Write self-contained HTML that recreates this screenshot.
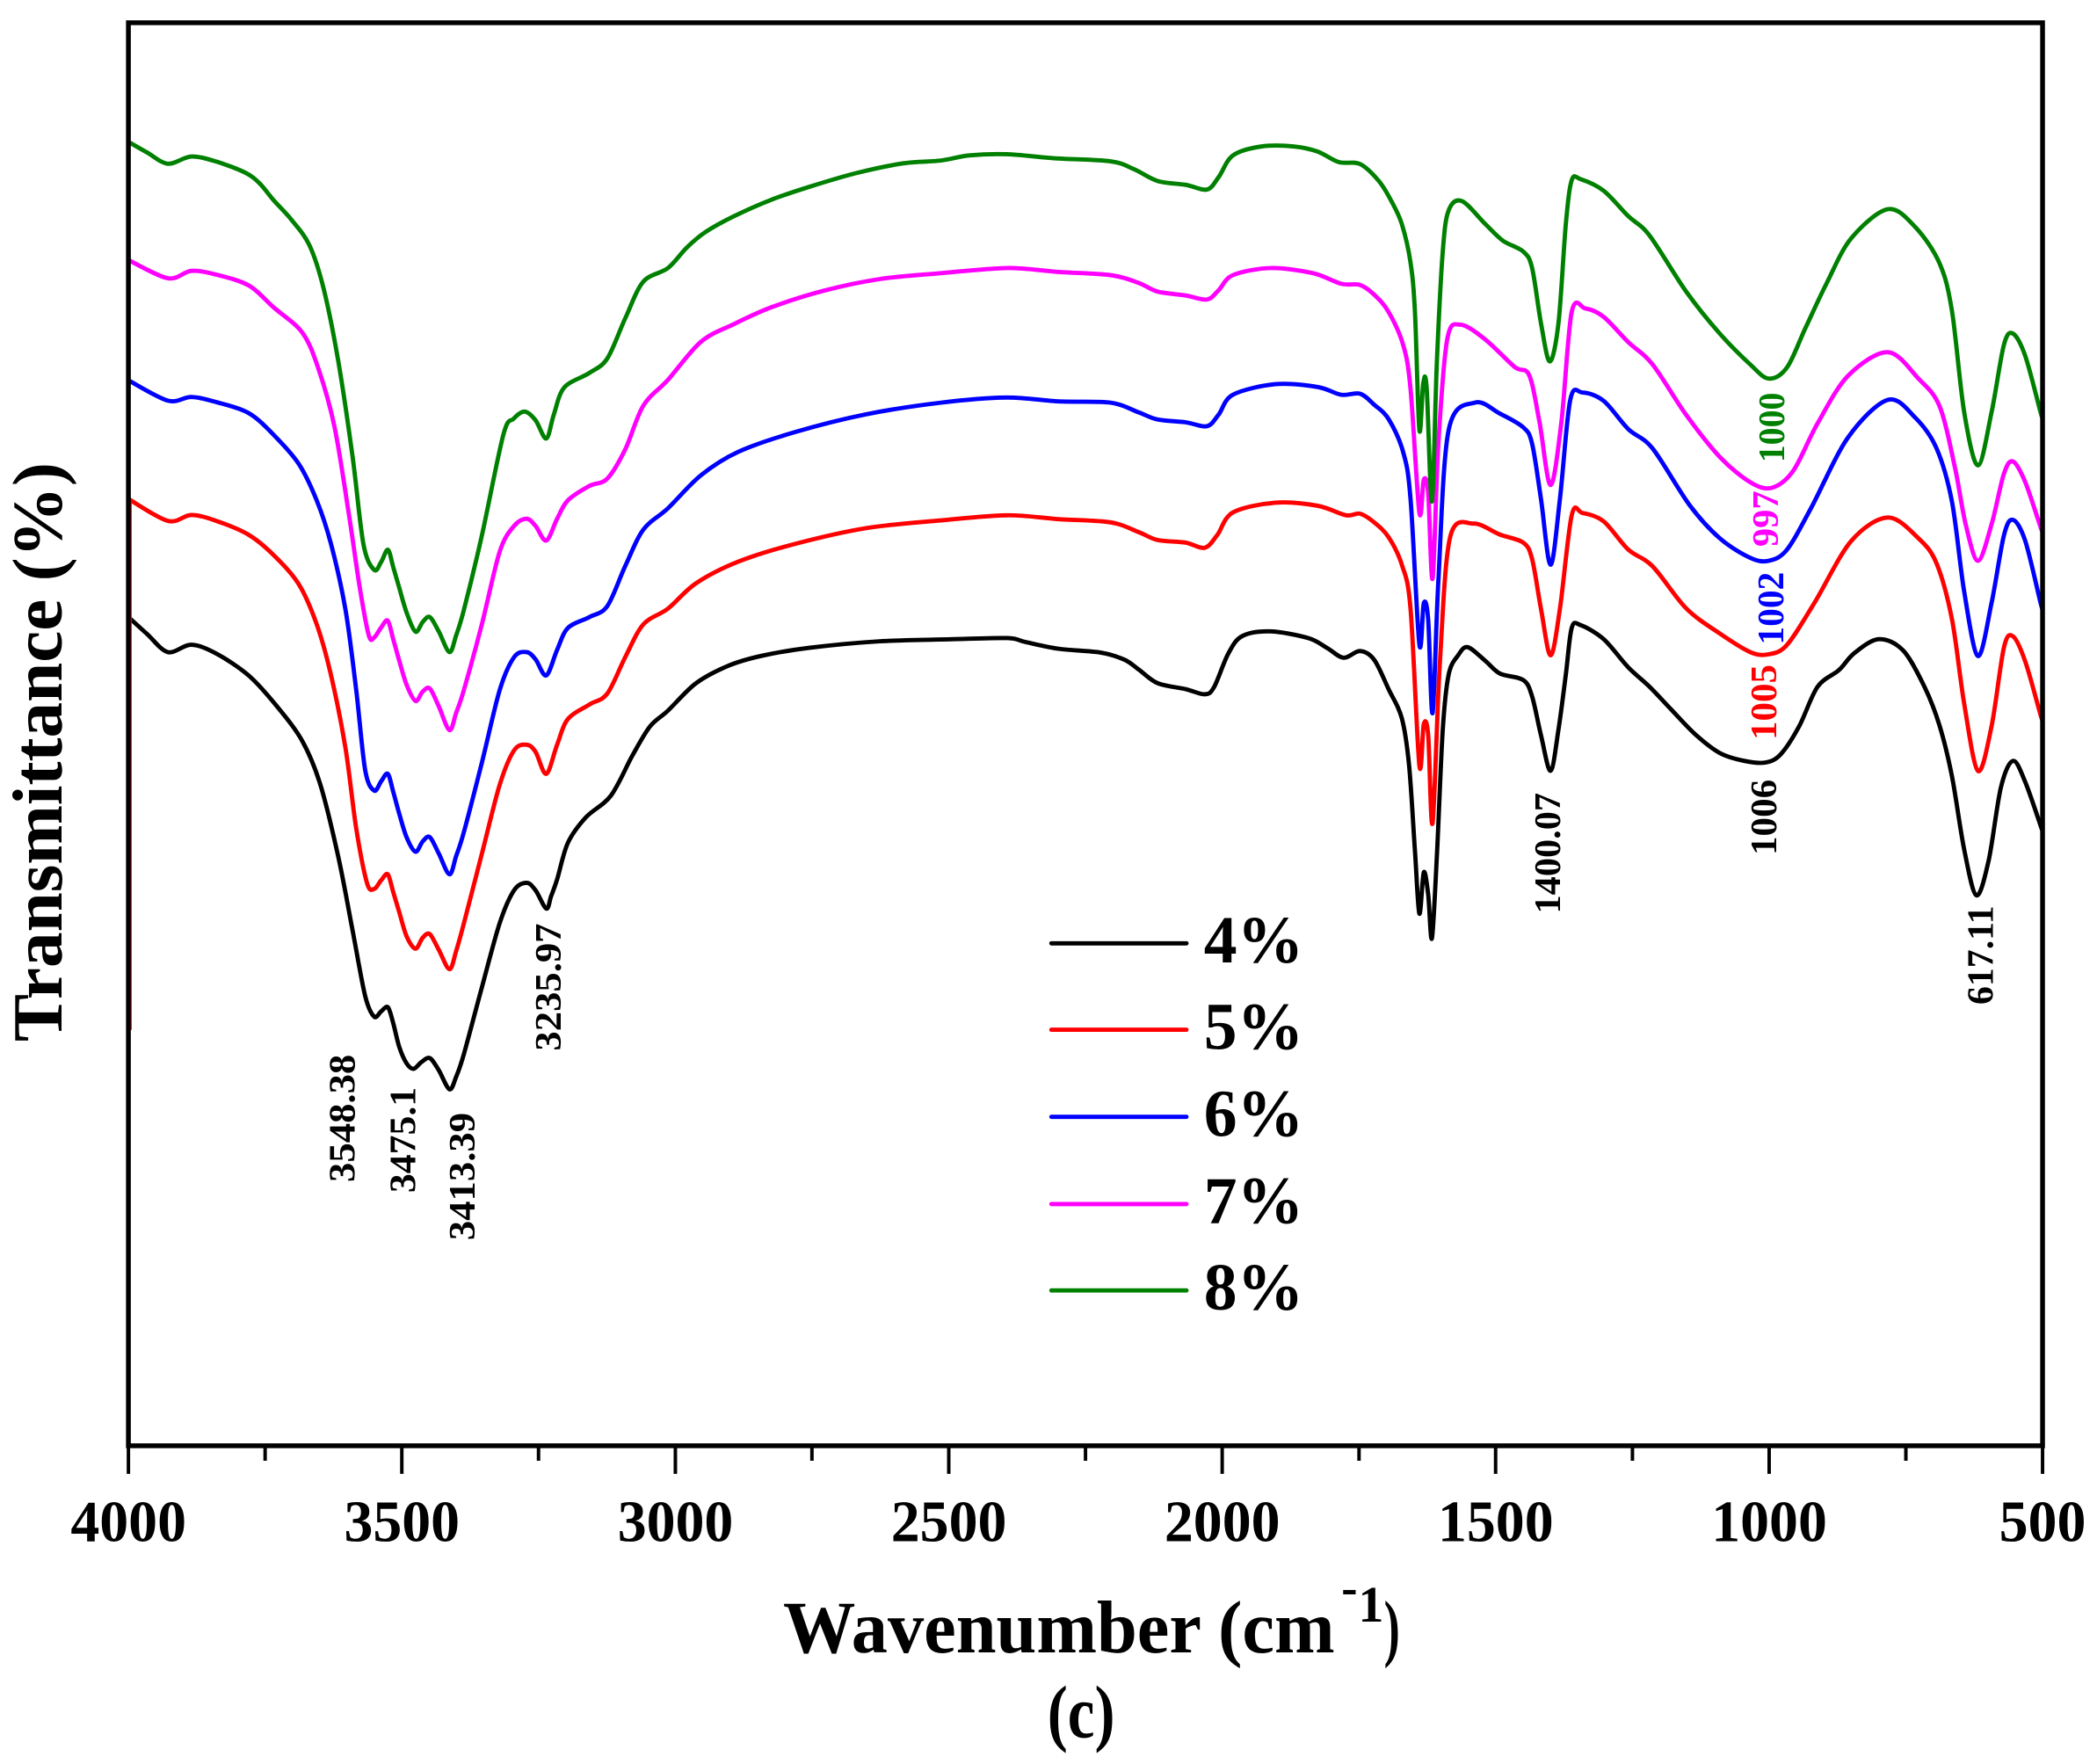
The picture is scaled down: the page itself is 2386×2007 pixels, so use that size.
<!DOCTYPE html>
<html>
<head>
<meta charset="utf-8">
<style>
  html, body { margin:0; padding:0; background:#ffffff; }
  body { width:2386px; height:2007px; overflow:hidden; }
  svg { display:block; }
  text { font-family:"Liberation Serif","Times New Roman",serif; font-weight:bold; }
</style>
</head>
<body>
<svg id="chart" width="2386" height="2007" viewBox="0 0 1567.7 1318.7" preserveAspectRatio="none" xmlns="http://www.w3.org/2000/svg">
  <rect x="0" y="0" width="1567.7" height="1318.7" fill="#ffffff"/>

  <!-- curves -->
  <g id="curves" fill="none" stroke-width="3.2" stroke-linejoin="round" stroke-linecap="round">
    <polyline stroke="#000000" points="96,461.3 110,474 125.5,487.5 143,482 161.7,488.6 185.9,505 207,528 226,554 239.5,586.6 253,641 263.6,695.6 273,744.6 279.7,760 285,756 290,753 294,765 298.5,782.7 304,795 309.2,799 315,794 321.3,791 328,800 336,814.3 341,805 346.8,788 360,739 373.6,690 384.3,665.6 393.7,660 400.4,665.6 408.4,679.2 412,670 416.5,657.4 424.5,630.2 438,611 456.7,594.8 472.8,564.8 486,543 499.3,531.3 520.4,510.7 545,497.5 569.7,490.2 604.9,484.3 657.7,479.4 710.5,477.9 752.7,477 766.8,480 791.5,485 823.1,487.9 840.7,493.2 851.3,500.5 865.4,510.7 886.5,515.2 900.6,519 907.6,513.7 918.2,488.7 928.7,475.5 949.8,472 978,477 992,484.3 1004.4,491.7 1016.7,486.7 1027.3,493.2 1038,515 1048,537 1053.4,572 1057.8,636 1061.1,683 1064.4,652.1 1067.7,668.6 1070.5,701.4 1074.2,639.8 1078.6,545.4 1083,504.3 1090,490 1097.2,483.8 1110.4,494 1121.3,503.5 1138.8,508.4 1145.4,520.7 1152,549.5 1159.2,576.2 1165.1,545.4 1170.6,504.3 1175,469.4 1181.6,467.3 1198.9,477.8 1217.2,498.8 1233.2,513.4 1249.2,530.2 1267.4,549 1285.7,562.9 1304,568.8 1320,570 1331.4,563.7 1345.1,542.8 1358.8,513.4 1374.8,500.9 1386.2,488.3 1404.5,477.8 1422.7,486.2 1438.7,513.4 1450.1,542.8 1459.3,580.5 1468.4,635 1477.5,669.3 1486.7,643.3 1495.8,588.9 1504.9,568.8 1514.1,584.7 1526.6,620.3"/>
    <polyline stroke="#ff0000" points="96,373 125.5,389.4 143,385 161.7,389.4 185.9,399.8 204.6,415 223.4,436.8 236.8,466.8 247.5,504.9 258.3,559.4 266.3,619.3 274.4,660.2 279.7,664.5 285,658 289.9,653.6 294,667 298.5,682 304,700 310.6,709.2 316,701 321.3,698.3 328,710 336,724.5 341,711 346.8,690.2 360.2,638.4 373.6,586.6 384.3,561 393.7,556.7 400.4,562.1 408.4,578.5 416.5,556.7 424.5,537.6 440.6,526.7 454,518.5 467.4,491.3 480.9,466.8 499.3,455 520.4,436 552.1,419.8 594.4,406.6 647.1,394.9 703.5,389 752.7,385.2 791.5,388.1 830.2,390.5 851.3,397.8 865.4,403.7 886.5,405.7 900.6,409.5 910,400 921.7,383.1 953.4,375.8 985,378.1 1006.3,385.2 1016.7,384 1027.3,390.5 1038.1,401.6 1048,422.2 1054.5,455 1061.1,572 1064.4,541.3 1067.7,549.5 1071,615.2 1076.4,496.1 1084.1,401.6 1101.6,391.4 1121.3,399.6 1138.8,405.7 1145.4,418 1152,455 1159.2,489.9 1166.2,455 1175,385.2 1183,383.5 1198.9,389.8 1217.2,410.8 1235.5,423.4 1260.6,454.8 1285.7,473.6 1308.5,487.5 1322.3,489.1 1336,482 1356.5,450.6 1383.9,404.5 1411.3,386.9 1434.2,402.4 1447.8,421.3 1459.3,463.1 1468.4,526 1478.7,576.3 1488.9,542.8 1498.1,484.1 1504.9,475.7 1514.1,494.6 1525.5,534.4 1527,538"/>
    <polyline stroke="#0000ff" points="96,284.3 125.5,299.5 143,296.8 161.7,300.6 185.9,308.8 204.6,325.1 223.4,346.9 236.8,374.2 247.5,406.8 258.3,455.9 266.3,515.8 273,575.7 279.7,591 285,584 289.9,578.5 294,592 298.5,608.4 304,626 310.6,636.7 316,629 321.3,625.8 328,638 336,653.6 341,640 346.8,622 360.2,570.3 373.6,515.8 384.3,491.3 393.7,487.5 400.4,492.9 408.4,504.9 416.5,485.8 424.5,469.5 440.6,461.3 454,453.1 467.4,423.2 480.9,396 499.3,380 524,355.3 552.1,337.7 594.4,323 647.1,309.8 703.5,301 752.7,297.2 791.5,300.1 830.2,301 851.3,308.3 865.4,313.6 886.5,315.7 902.3,318.6 911,310 921.7,295.1 953.4,287.2 985,289.3 1002.6,295.1 1016.7,294.3 1027.3,302.5 1038.1,313.3 1049,338 1054.5,372.9 1061.1,481.7 1064.4,450.9 1067.7,463.2 1071,533 1075.3,434.5 1083,321.5 1102.7,301 1121.3,309.2 1138.8,319.5 1145.4,331.8 1152,372.9 1159.2,422.2 1166.2,372.9 1173.9,299 1183,293.4 1198.9,299.7 1217.2,320.7 1235.5,335.3 1262.9,377.3 1285.7,402.4 1308.5,417 1322.3,419.2 1336,410.8 1354.2,379.3 1381.6,327 1411.3,298.9 1431.9,312.3 1447.8,335.3 1459.3,375.2 1468.4,442.2 1478.7,490.4 1488.9,450.6 1498.1,400.3 1504.9,388.6 1514.1,404.5 1525.5,450.6 1527,455"/>
    <polyline stroke="#ff00ff" points="96,194.4 125.5,208 143,202.5 161.7,205.3 185.9,213.4 204.6,229.8 226.1,248.8 238.2,276.1 250.2,319.7 260.9,385 269,439.5 275.7,475 279.7,476.6 285,469 289.9,464 294,478 298.5,494 304,512 310.6,524 316,517 321.3,514.7 328,528 336,545.8 341,533 346.8,515.8 360.2,466.8 373.6,412.3 384.3,393.2 393.7,387.8 400.4,393.2 408.4,404.1 416.5,387.8 424.5,374.1 440.6,363.3 454,357.8 467.4,336 480.9,303.3 499.3,284 524,255.5 548.6,242.3 576.7,229.7 615.5,217.4 657.7,208.6 703.5,204.2 752.7,200.4 791.5,203.3 830.2,205.7 851.3,211.5 865.4,218 886.5,220.9 902.3,223.9 911,217 921.7,205.7 949.8,200.4 981.5,204.2 1002.6,212.1 1016.7,213 1027.3,220.3 1038.1,233.2 1049,257.9 1054.5,290.7 1061.1,383.1 1064.4,358.5 1067.7,368.8 1071,432.4 1075.3,331.8 1081.9,253.8 1091.8,242.7 1110.4,253.8 1132.3,274.3 1143.2,280.5 1150.9,315.4 1159.2,362.6 1167.3,315.4 1175,233.2 1185.2,230.6 1198.9,236.9 1217.2,255.7 1235.5,272.5 1260.6,310.2 1285.7,341.6 1308.5,360.5 1324.5,364.7 1340.5,352.1 1358.8,316.5 1381.6,280.9 1411.3,263.3 1434.2,283 1450.1,303.9 1461.6,350 1469.5,391.9 1478.7,419.2 1488.9,391.9 1498.1,354.2 1504.9,345 1514.1,360.5 1525.5,394 1527,397"/>
    <polyline stroke="#008000" points="96,106 110,114 125.5,122.4 143,117 161.7,120.8 183.2,129 194,137 204.6,149.7 218,164.4 231.4,183.5 242,216 253,270.6 263.6,341.5 271.7,406.8 279.7,426 285,420 290,411 294,424 298.5,439.5 304,458 310.6,472.2 316,465 321.3,461.3 328,472 336,487.5 341,475 346.8,455.9 360,401.4 376.3,325 384,313 392.3,307.7 400.4,314.2 408.4,327.8 414,310 421.8,289.7 440.6,278.8 454,268 467.4,238 480.8,210.7 499.3,200.4 513.4,185.1 527.5,173.4 548.6,161.7 576.7,149.3 604.9,139.7 640.1,129.4 675.3,122.1 703.5,120 724.6,116.2 752.7,115.3 787.9,118.3 830.2,120.6 847.8,126.5 865.4,135.3 886.5,138.2 902.3,141.7 911.1,132.3 921.7,116.2 942.8,109.5 967.4,109.5 985,113.3 1000.9,121.2 1016.7,122.6 1030.8,135.3 1040,150 1048,167.5 1054.5,196.3 1057.8,233.2 1061.1,321.5 1064,286.6 1066.6,290.7 1070.5,374.9 1074.2,270.2 1078.6,188.1 1083,157.3 1092.9,150.3 1110.4,167.5 1123.5,179.9 1138.8,188.1 1145.4,200.4 1152,241.5 1158.6,270.2 1165.1,241.5 1170.6,167.5 1175,134.7 1181.6,133.9 1198.9,142.6 1217.2,161.5 1233.2,176.1 1260.6,218 1285.7,249.4 1308.5,272.5 1322.3,283 1336,274.6 1349.7,245.3 1365.6,211.7 1383.9,178.2 1411.3,156.4 1431.9,169.8 1450.1,197.1 1459.3,232.7 1468.4,308.1 1478.7,347.9 1488.9,308.1 1498.1,257.8 1504.9,249.4 1514.1,266.2 1525.5,308.1 1527,312"/>
  </g>

  <!-- red segment along left axis -->
  <line x1="97.5" y1="373" x2="97.5" y2="770" stroke="#ff0000" stroke-width="2"/>

  <!-- frame -->
  <rect x="96" y="17" width="1431" height="1063.8" fill="none" stroke="#000000" stroke-width="3.6"/>

  <!-- ticks -->
  <g stroke="#000000" stroke-width="2.6">
    <line x1="96" y1="1080.8" x2="96" y2="1101.8"/>
    <line x1="300.4" y1="1080.8" x2="300.4" y2="1101.8"/>
    <line x1="504.9" y1="1080.8" x2="504.9" y2="1101.8"/>
    <line x1="709.3" y1="1080.8" x2="709.3" y2="1101.8"/>
    <line x1="913.7" y1="1080.8" x2="913.7" y2="1101.8"/>
    <line x1="1118.1" y1="1080.8" x2="1118.1" y2="1101.8"/>
    <line x1="1322.6" y1="1080.8" x2="1322.6" y2="1101.8"/>
    <line x1="1527" y1="1080.8" x2="1527" y2="1101.8"/>
    <line x1="198.2" y1="1080.8" x2="198.2" y2="1092"/>
    <line x1="402.6" y1="1080.8" x2="402.6" y2="1092"/>
    <line x1="607" y1="1080.8" x2="607" y2="1092"/>
    <line x1="811.5" y1="1080.8" x2="811.5" y2="1092"/>
    <line x1="1016" y1="1080.8" x2="1016" y2="1092"/>
    <line x1="1220.4" y1="1080.8" x2="1220.4" y2="1092"/>
    <line x1="1424.8" y1="1080.8" x2="1424.8" y2="1092"/>
  </g>

  <!-- tick labels -->
  <g font-size="44" fill="#000000">
    <text x="52.8" y="1152" textLength="86.5" lengthAdjust="spacingAndGlyphs">4000</text>
    <text x="257.2" y="1152" textLength="86.5" lengthAdjust="spacingAndGlyphs">3500</text>
    <text x="461.7" y="1152" textLength="86.5" lengthAdjust="spacingAndGlyphs">3000</text>
    <text x="666.1" y="1152" textLength="86.5" lengthAdjust="spacingAndGlyphs">2500</text>
    <text x="870.5" y="1152" textLength="86.5" lengthAdjust="spacingAndGlyphs">2000</text>
    <text x="1074.9" y="1152" textLength="86.5" lengthAdjust="spacingAndGlyphs">1500</text>
    <text x="1279.4" y="1152" textLength="86.5" lengthAdjust="spacingAndGlyphs">1000</text>
    <text x="1494.5" y="1152" textLength="65" lengthAdjust="spacingAndGlyphs">500</text>
  </g>

  <!-- axis titles -->
  <text x="585.4" y="1235.2" font-size="56" textLength="412.4" lengthAdjust="spacingAndGlyphs">Wavenumber (cm</text>
  <text x="1002.8" y="1199.5" font-size="38" textLength="12" lengthAdjust="spacingAndGlyphs">-</text>
  <text x="1015.5" y="1212.2" font-size="38" textLength="19" lengthAdjust="spacingAndGlyphs">1</text>
  <text x="1034.6" y="1235.2" font-size="56" textLength="12" lengthAdjust="spacingAndGlyphs">)</text>
  <text x="783" y="1298.7" font-size="56" textLength="50.5" lengthAdjust="spacingAndGlyphs">(c)</text>

  <text transform="translate(46,562.2) rotate(-90)" x="-216.5" y="0" font-size="53" textLength="433" lengthAdjust="spacingAndGlyphs">Transmittance (%)</text>

  <!-- legend -->
  <g stroke-width="3.2" stroke-linecap="round">
    <line x1="786" y1="705.2" x2="887" y2="705.2" stroke="#000000"/>
    <line x1="786" y1="769.8" x2="887" y2="769.8" stroke="#ff0000"/>
    <line x1="786" y1="834.9" x2="887" y2="834.9" stroke="#0000ff"/>
    <line x1="786" y1="900.1" x2="887" y2="900.1" stroke="#ff00ff"/>
    <line x1="786" y1="964.7" x2="887" y2="964.7" stroke="#008000"/>
  </g>
  <g font-size="50" fill="#000000">
    <text x="900" y="719.5" textLength="74.5" lengthAdjust="spacingAndGlyphs">4%</text>
    <text x="900" y="784.1" textLength="74.5" lengthAdjust="spacingAndGlyphs">5%</text>
    <text x="900" y="849.2" textLength="74.5" lengthAdjust="spacingAndGlyphs">6%</text>
    <text x="900" y="914.4" textLength="74.5" lengthAdjust="spacingAndGlyphs">7%</text>
    <text x="900" y="979" textLength="74.5" lengthAdjust="spacingAndGlyphs">8%</text>
  </g>

  <!-- peak annotations (rotated) -->
  <g font-size="28">
    <text fill="#000000" transform="translate(265,836) rotate(-90)" x="-47.7" y="0" textLength="95.4" lengthAdjust="spacingAndGlyphs">3548.38</text>
    <text fill="#000000" transform="translate(310.6,852.2) rotate(-90)" x="-39.5" y="0" textLength="79" lengthAdjust="spacingAndGlyphs">3475.1</text>
    <text fill="#000000" transform="translate(354.8,879.5) rotate(-90)" x="-47.7" y="0" textLength="95.4" lengthAdjust="spacingAndGlyphs">3413.39</text>
    <text fill="#000000" transform="translate(419.2,737.9) rotate(-90)" x="-47.65" y="0" textLength="95.3" lengthAdjust="spacingAndGlyphs">3235.97</text>
    <text fill="#000000" transform="translate(1166.2,637.8) rotate(-90)" x="-45.2" y="0" textLength="90.4" lengthAdjust="spacingAndGlyphs">1400.07</text>
    <text fill="#000000" transform="translate(1328,611) rotate(-90)" x="-28.3" y="0" textLength="56.6" lengthAdjust="spacingAndGlyphs">1006</text>
    <text fill="#000000" transform="translate(1490,714) rotate(-90)" x="-37" y="0" textLength="74" lengthAdjust="spacingAndGlyphs">617.11</text>
    <text fill="#008000" transform="translate(1333.7,319.6) rotate(-90)" x="-26.2" y="0" textLength="52.4" lengthAdjust="spacingAndGlyphs">1000</text>
    <text fill="#ff00ff" transform="translate(1329.1,387.8) rotate(-90)" x="-20.95" y="0" textLength="41.9" lengthAdjust="spacingAndGlyphs">997</text>
    <text fill="#0000ff" transform="translate(1333.2,454.8) rotate(-90)" x="-27.25" y="0" textLength="54.5" lengthAdjust="spacingAndGlyphs">1002</text>
    <text fill="#ff0000" transform="translate(1328,525) rotate(-90)" x="-28.25" y="0" textLength="56.5" lengthAdjust="spacingAndGlyphs">1005</text>
  </g>
</svg>
<script>
(function(){
  try {
    var NS = "http://www.w3.org/2000/svg";
    var g = document.getElementById("curves");
    var pls = Array.prototype.slice.call(g.getElementsByTagName("polyline"));
    pls.forEach(function(pl){
      var raw = pl.getAttribute("points").trim().split(/\s+/);
      var p = raw.map(function(s){ var a = s.split(","); return [parseFloat(a[0]), parseFloat(a[1])]; });
      if (p.length < 3) return;
      var d = "M" + p[0][0] + "," + p[0][1];
      var t = 0.16;
      for (var i = 0; i < p.length - 1; i++) {
        var p0 = p[i > 0 ? i - 1 : i], p1 = p[i], p2 = p[i + 1], p3 = p[i + 2 < p.length ? i + 2 : i + 1];
        var c1x = p1[0] + (p2[0] - p0[0]) * t, c1y = p1[1] + (p2[1] - p0[1]) * t;
        var c2x = p2[0] - (p3[0] - p1[0]) * t, c2y = p2[1] - (p3[1] - p1[1]) * t;
        d += " C" + c1x.toFixed(2) + "," + c1y.toFixed(2) + " " + c2x.toFixed(2) + "," + c2y.toFixed(2) + " " + p2[0] + "," + p2[1];
      }
      var path = document.createElementNS(NS, "path");
      path.setAttribute("d", d);
      path.setAttribute("stroke", pl.getAttribute("stroke"));
      g.insertBefore(path, pl);
      g.removeChild(pl);
    });
  } catch (e) {}
})();
</script>
</body>
</html>
